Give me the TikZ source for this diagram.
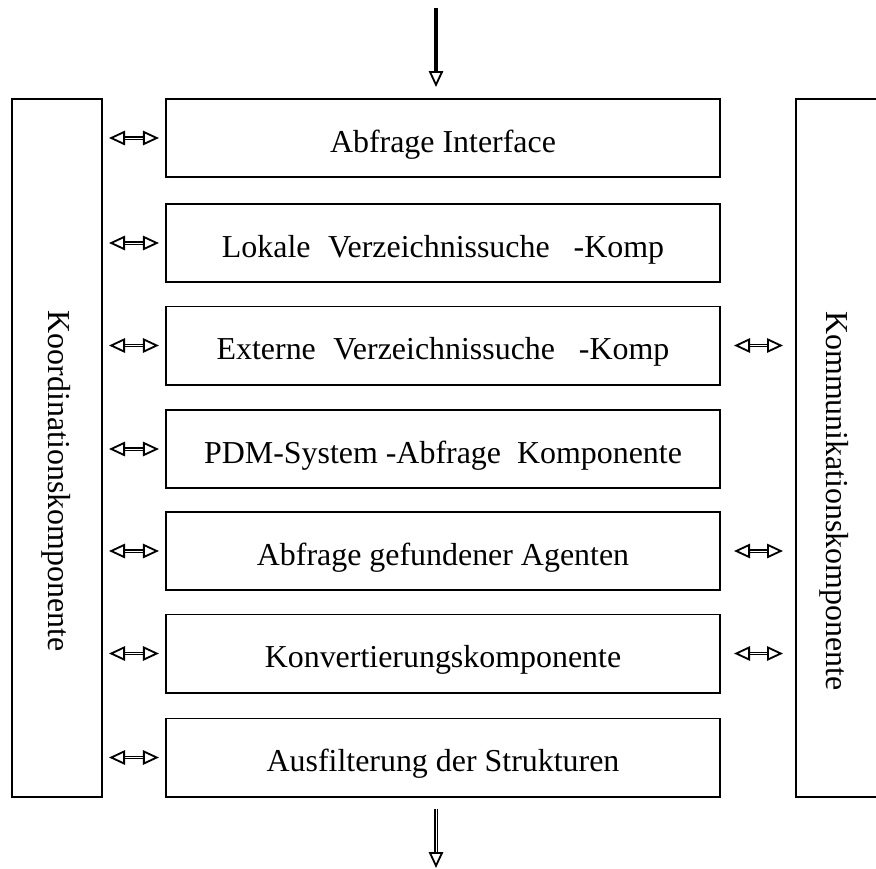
\documentclass[tikz,border=0pt]{standalone}
\usepackage{fontspec}
\setmainfont{Liberation Serif}
\usetikzlibrary{arrows.meta, positioning}

\begin{document}
\begin{tikzpicture}[x=0.025cm, y=-0.025cm, line width=1.4pt,
  >={Triangle[open, length=0.4cm, width=0.36cm, line width=1.3pt]},
  komp/.style={draw, minimum width=13.85cm, minimum height=1.95cm, inner sep=0pt,
    text height=20pt, text depth=0pt, font=\fontsize{22.7}{26}\selectfont},
  seite/.style={draw, minimum height=17.45cm, inner sep=0pt},
  seitentext/.style={rotate=-90, inner sep=0pt, font=\fontsize{22.7}{26}\selectfont},
  dpfeil/.style={<->, double, double distance=0.6pt, line width=0.9pt}]

\useasboundingbox (0,0) rectangle (876,869);

% Side components
\node[seite, minimum width=2.25cm] (koord) at (57,448) {};
\node[seite, minimum width=2.1cm] (komm) at (838,448) {};
\node[seitentext] (koordtext) at (56,481) {Koordinationskomponente};
\node[seitentext] (kommtext) at (834.5,501) {Kommunikationskomponente};

% Stack of components in the middle
\node[komp] (abfrage) at (443,138) {Abfrage Interface};
\node[komp] (lokal) at (443,243) {Lokale\hspace{0.55em}Verzeichnissuche\hspace{0.75em}-Komp};
\node[komp] (extern) at (443,345.5) {Externe\hspace{0.55em}Verzeichnissuche\hspace{0.75em}-Komp};
\node[komp] (pdm) at (443,449) {PDM-System -Abfrage\hspace{0.5em}Komponente};
\node[komp] (agenten) at (443,551) {Abfrage gefundener Agenten};
\node[komp] (konv) at (443,653.5) {Konvertierungskomponente};
\node[komp] (filter) at (443,757.5) {Ausfilterung der Strukturen};

% Input and output
\coordinate (ein) at (436,8);
\coordinate (aus) at (436,868);
\draw[->, line width=2.6pt, shorten >=0.275cm] (ein) -- (ein |- abfrage.north);
\draw[->, double, double distance=0.6pt, line width=0.9pt, shorten <=0.275cm] (aus |- filter.south) -- (aus);

% Links to the coordination component
\foreach \b in {abfrage, lokal, extern, pdm, agenten, konv, filter}
  \draw[dpfeil, shorten <=0.15cm, shorten >=0.15cm] (koord.east |- \b.west) -- (\b.west);

% Links to the communication component
\foreach \b in {extern, agenten, konv}
  \draw[dpfeil, shorten <=0.325cm, shorten >=0.3cm] (\b.east) -- (komm.west |- \b.east);

\end{tikzpicture}
\end{document}
